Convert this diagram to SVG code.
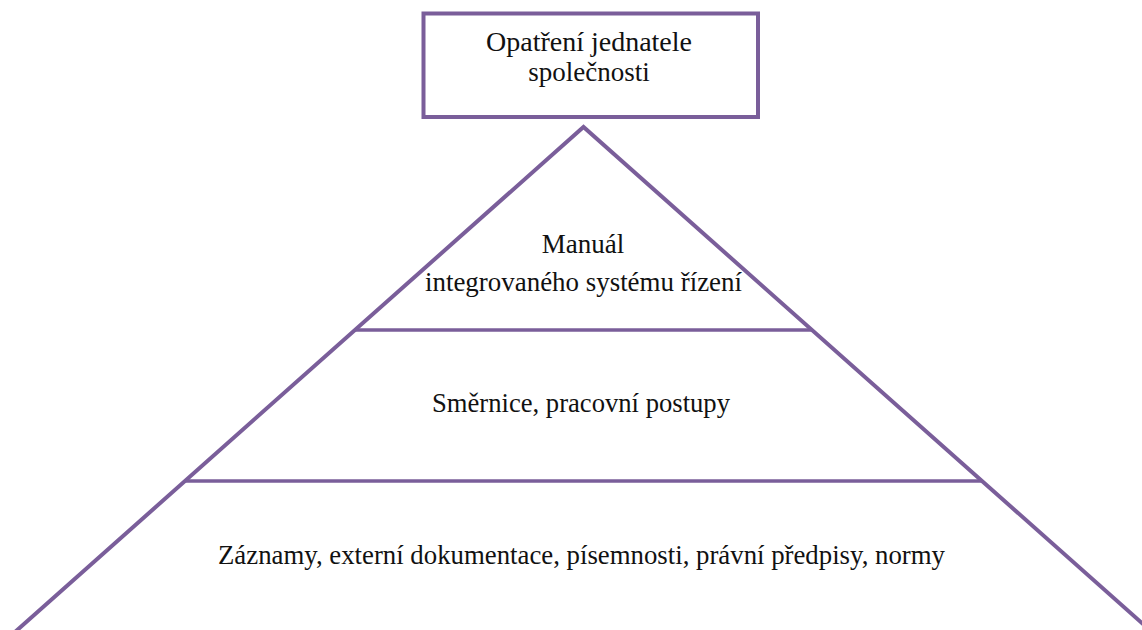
<svg xmlns="http://www.w3.org/2000/svg" width="1142" height="630" viewBox="0 0 1142 630">
  <style>
    .frame { fill: #ffffff; stroke: #7a5e9a; stroke-width: 4; }
    .edge { fill: none; stroke: #7a5e9a; stroke-width: 4; stroke-linejoin: miter; }
    .tier { fill: none; stroke: #7a5e9a; stroke-width: 3.5; }
    .label { font-family: "Liberation Serif", "Times New Roman", serif; font-size: 27px; fill: #111111; text-anchor: middle; }
  </style>
  <rect width="1142" height="630" fill="#ffffff"/>

  <!-- pyramid outline and tier dividers -->
  <g id="connectors">
    <polyline class="edge" points="6,640 583.5,127 1161,640"/>
    <line class="tier" x1="355" y1="330" x2="812" y2="330"/>
    <line class="tier" x1="185" y1="481" x2="982" y2="481"/>
  </g>

  <!-- top box -->
  <g id="node-jednatel">
    <rect class="frame" x="423.5" y="13.5" width="334.5" height="103.5"/>
    <text class="label" x="589" y="51" textLength="206" lengthAdjust="spacingAndGlyphs">Opatření jednatele</text>
    <text class="label" x="589" y="81">společnosti</text>
  </g>

  <!-- tier 1 -->
  <g id="node-manual">
    <text class="label" x="583" y="253">Manuál</text>
    <text class="label" x="583.5" y="291" textLength="317" lengthAdjust="spacingAndGlyphs">integrovaného systému řízení</text>
  </g>

  <!-- tier 2 -->
  <g id="node-smernice">
    <text class="label" x="581" y="412" textLength="298" lengthAdjust="spacingAndGlyphs">Směrnice, pracovní postupy</text>
  </g>

  <!-- tier 3 -->
  <g id="node-zaznamy">
    <text class="label" x="581.5" y="564" textLength="727" lengthAdjust="spacingAndGlyphs">Záznamy, externí dokumentace, písemnosti, právní předpisy, normy</text>
  </g>
</svg>
